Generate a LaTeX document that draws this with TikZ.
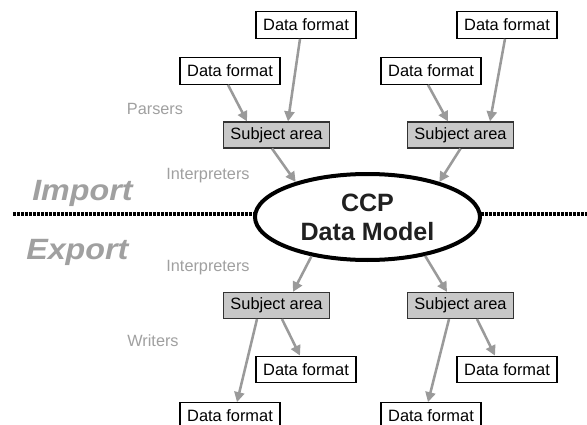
\documentclass[tikz,border=0pt]{standalone}
\usepackage{fontspec}
\setmainfont{Liberation Sans}
\newfontfamily\sidefont[FakeStretch=1.1]{Liberation Sans}
\usetikzlibrary{calc,arrows.meta,shapes.geometric}

\definecolor{flowgray}{HTML}{9A9A9A}
\definecolor{labelgray}{HTML}{A0A0A0}
\definecolor{areafill}{HTML}{C8C8C8}
\definecolor{darktext}{HTML}{202020}

\tikzset{
  fmtbox/.style={draw=black, line width=0.8pt, fill=white, minimum width=75pt,
    minimum height=20pt, inner sep=0pt, font=\fontsize{12.3}{14}\selectfont},
  areabox/.style={draw=black!80, line width=0.9pt, fill=areafill, minimum width=80pt,
    minimum height=19.5pt, inner sep=0pt, font=\fontsize{12.3}{14}\selectfont},
  flow/.style={draw=flowgray, line width=1.9pt,
    -{Triangle[length=7.5pt,width=7.5pt]}},
  steplabel/.style={text=labelgray, inner sep=0pt, font=\fontsize{12.2}{14}\selectfont},
  sidelabel/.style={text=labelgray, inner sep=0pt,
    font=\sidefont\fontsize{22}{26}\selectfont\bfseries\itshape},
  divider/.style={line width=2.3pt, dash pattern=on 2.4pt off 0.6pt},
  model/.style={ellipse, draw=black, line width=3pt, fill=white,
    minimum width=168.75pt, minimum height=64.5pt, inner sep=0pt,
    align=center, text=darktext, font=\fontsize{18.8}{21.75}\selectfont\bfseries}
}

\begin{document}
\begin{tikzpicture}[x=0.75pt, y=-0.75pt]
  \useasboundingbox (0,0) rectangle (587,425);
  \clip (0,0) rectangle (587,425);
  \fill[white] (0,0) rectangle (587,425);

  % import / export divider
  \coordinate (divL) at (13,214);
  \coordinate (divR) at (587,214);
  \draw[divider] (divL) -- (divR);

  % central model
  \node[model] (ccp) at (367.5,217) {CCP\\Data Model};

  % side captions
  \node[sidelabel, anchor=west] (imp) at (32,193) {Import};
  \node[sidelabel, anchor=west] (exp) at (26,252.5) {Export};

  % stage labels
  \node[steplabel] (parsers) at (155,109) {Parsers};
  \node[steplabel] (interpA) at (208,176) {Interpreters};
  \node[steplabel] (interpB) at (208,268) {Interpreters};
  \node[steplabel] (writers) at (153,341) {Writers};

  % import side
  \node[fmtbox] (df1) at (306,25) {Data format};
  \node[fmtbox] (df2) at (507,25) {Data format};
  \node[fmtbox] (df3) at (230,71) {Data format};
  \node[fmtbox] (df4) at (431,71) {Data format};
  \node[areabox] (sa1) at (276.5,135) {Subject area};
  \node[areabox] (sa2) at (460.5,135) {Subject area};

  % export side
  \node[areabox] (sa3) at (276.5,305.5) {Subject area};
  \node[areabox] (sa4) at (460.5,305.5) {Subject area};
  \node[fmtbox] (df5) at (306,369.5) {Data format};
  \node[fmtbox] (df6) at (507,369.5) {Data format};
  \node[fmtbox] (df7) at (230,416) {Data format};
  \node[fmtbox] (df8) at (431,416) {Data format};

  % parsers
  \draw[flow] ($(df3.south)+(-2,0)$) -- ($(sa1.north)+(-29.5,0)$);
  \draw[flow] ($(df1.south)+(-6,0)$) -- ($(sa1.north)+(11.5,0)$);
  \draw[flow] ($(df4.south)+(-3,0)$) -- ($(sa2.north)+(-12.5,0)$);
  \draw[flow] ($(df2.south)+(-2,0)$) -- ($(sa2.north)+(29.5,0)$);

  % interpreters (import)
  \draw[flow] ($(sa1.south)+(-4.5,0)$) -- (ccp.154);
  \draw[flow] (sa2.south) -- (ccp.26);

  % interpreters (export)
  \draw[flow] (ccp.215) -- ($(sa3.north)+(16.5,0)$);
  \draw[flow] (ccp.326) -- ($(sa4.north)+(-13.5,0)$);

  % writers
  \draw[flow] ($(sa3.south)+(5.5,0)$) -- ($(df5.north)+(-6,0)$);
  \draw[flow] ($(sa3.south)+(-19.5,0)$) -- ($(df7.north)+(7,0)$);
  \draw[flow] ($(sa4.south)+(16.5,0)$) -- ($(df6.north)+(-12,0)$);
  \draw[flow] ($(sa4.south)+(-11.5,0)$) -- ($(df8.north)+(-3,0)$);
\end{tikzpicture}
\end{document}
